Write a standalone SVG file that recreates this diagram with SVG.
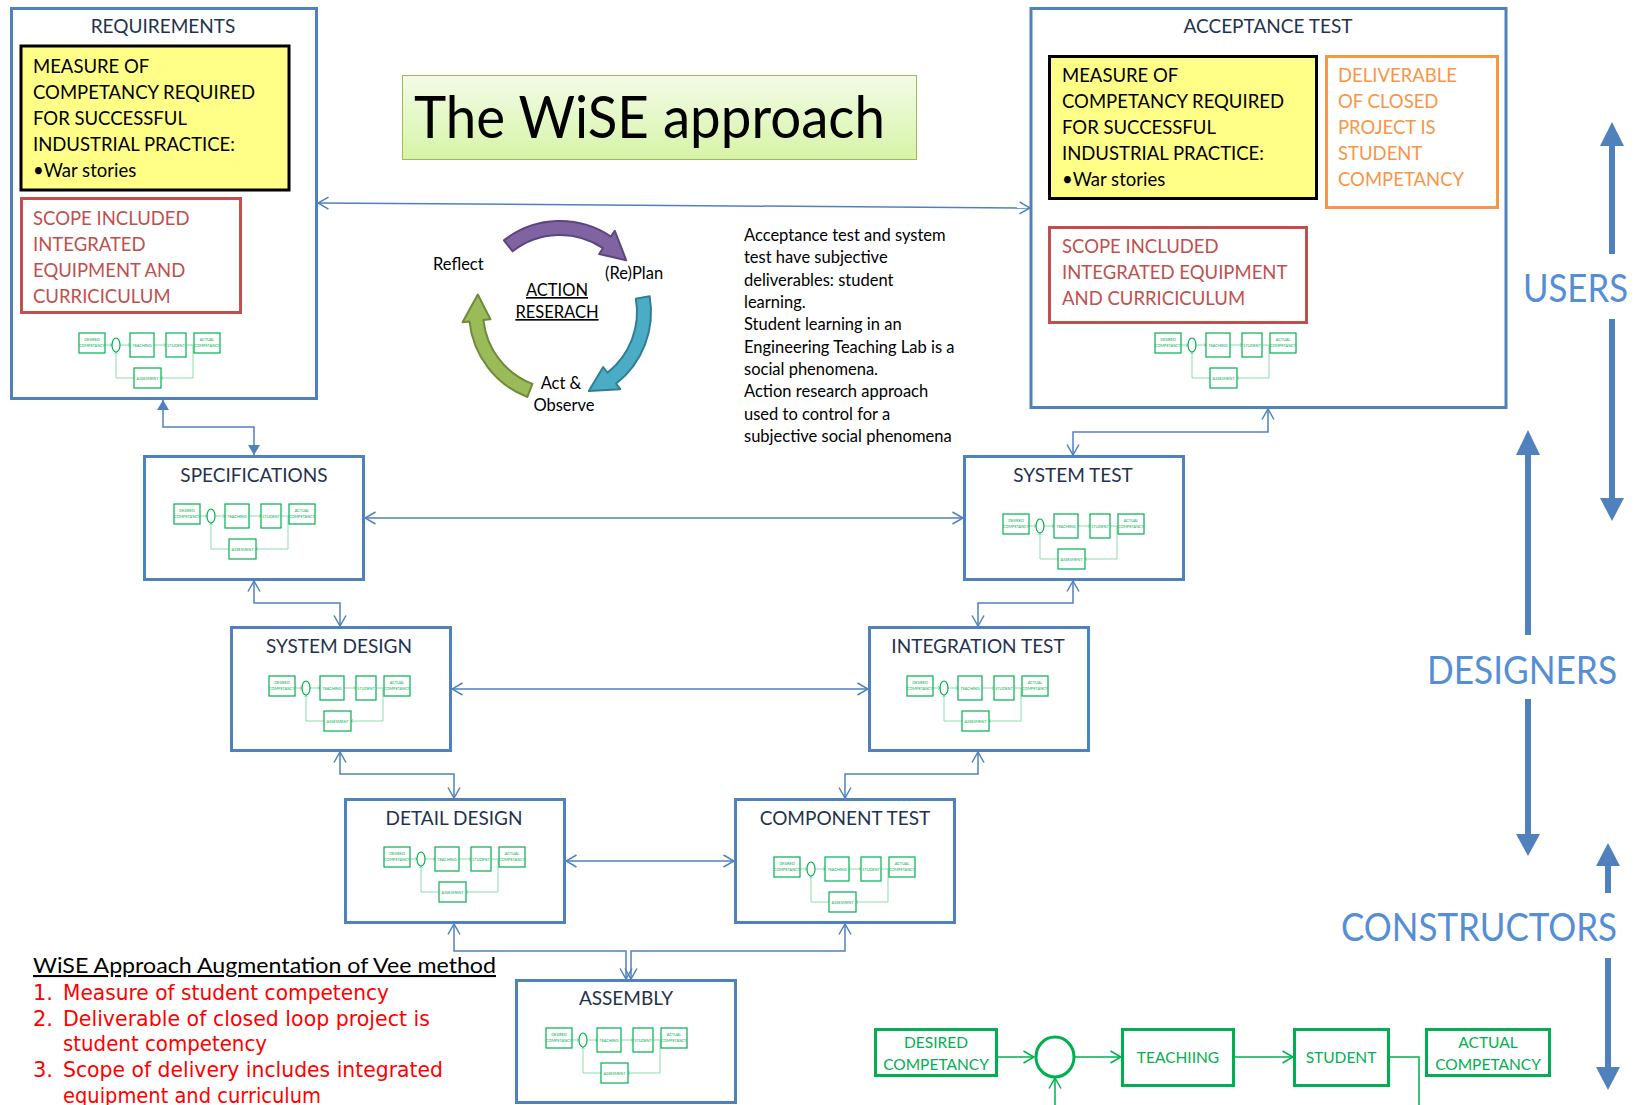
<svg xmlns="http://www.w3.org/2000/svg" xmlns:xlink="http://www.w3.org/1999/xlink" width="1641" height="1105" viewBox="0 0 1641 1105">
<defs>
<style>
 text{font-family:Lato,'Liberation Sans',sans-serif}
 .frame{fill:#fff;stroke:#4f81bd;stroke-width:3}
 .ttl{font-size:19px;fill:#1f3350;text-anchor:middle}
 .blk{font-size:18.5px;fill:#000}
 .yel{fill:#ffff88;stroke:#000;stroke-width:3}
 .redbox{fill:#fff;stroke:#c0504d;stroke-width:3}
 .redtxt{font-size:18.5px;fill:#c0504d}
 .orbox{fill:#fff;stroke:#f79646;stroke-width:3}
 .ortxt{font-size:18.5px;fill:#f79646}
 .conn{fill:none;stroke:#4f81bd;stroke-width:1.5}
 .vee{marker-start:url(#v);marker-end:url(#v)}
 .solid{marker-start:url(#tri);marker-end:url(#tri)}
 .body{font-size:16.5px;fill:#000}
 .mb{fill:#fff;stroke:#00b050;stroke-width:1.2}
 .ml{fill:none;stroke:#6fd497;stroke-width:0.8}
 .mt{font-size:3.8px;fill:#00b050;text-anchor:middle}
 .gb{fill:#fff;stroke:#00b050;stroke-width:3}
 .gl{fill:none;stroke:#00b050;stroke-width:1.5}
 .gt{font-size:15.5px;fill:#00b050;text-anchor:middle}
 .shaft{fill:none;stroke:#4f81bd;stroke-width:6}
 .head{fill:#4f81bd}
 .role{font-size:38px;fill:#558ed5}
 .red{font-size:21px;fill:#ff0000;font-family:'DejaVu Sans',sans-serif}
 .cyc{font-size:16.5px;fill:#000}
</style>
<marker id="v" viewBox="0 0 12 14" refX="11.5" refY="7" markerWidth="12" markerHeight="14" markerUnits="userSpaceOnUse" orient="auto-start-reverse">
 <path d="M1,1 L11.5,7 L1,13" fill="none" stroke="#4f81bd" stroke-width="1.5"/>
</marker>
<marker id="tri" viewBox="0 0 10 12" refX="10" refY="6" markerWidth="10" markerHeight="12" markerUnits="userSpaceOnUse" orient="auto-start-reverse">
 <path d="M0,0 L10,6 L0,12 Z" fill="#4f81bd"/>
</marker>
<marker id="gv" viewBox="0 0 12 14" refX="11.5" refY="7" markerWidth="12" markerHeight="14" markerUnits="userSpaceOnUse" orient="auto">
 <path d="M1,1 L11.5,7 L1,13" fill="none" stroke="#00b050" stroke-width="1.5"/>
</marker>
<linearGradient id="titleFill" x1="0" y1="0" x2="0" y2="1">
 <stop offset="0" stop-color="#f3fbe8"/>
 <stop offset="1" stop-color="#d6f4a6"/>
</linearGradient>
<!-- small feedback-loop sketch reused inside every stage box -->
<g id="loop">
 <path class="ml" d="M26,12H33M41,12H51M75,12H87M107,12H114V45H82M55,45H37V19M31,10.5L33,12L31,13.5M49,10.5L51,12L49,13.5M85,10.5L87,12L85,13.5M84,43.5L82,45L84,46.5M35.5,21L37,19L38.5,21"/>
 <rect class="mb" x="0" y="0" width="26" height="20"/>
 <ellipse class="mb" cx="37" cy="12" rx="4" ry="7"/>
 <rect class="mb" x="51" y="0" width="24" height="24"/>
 <rect class="mb" x="87" y="0" width="20" height="24"/>
 <rect class="mb" x="115" y="0" width="26" height="20"/>
 <rect class="mb" x="55" y="35" width="27" height="20"/>
 <text class="mt" x="13" y="8">DESIRED</text>
 <text class="mt" x="13" y="14">COMPETANCY</text>
 <text class="mt" x="63" y="13.5">TEACHING</text>
 <text class="mt" x="97" y="13.5">STUDENT</text>
 <text class="mt" x="128" y="8">ACTUAL</text>
 <text class="mt" x="128" y="14">COMPETANCY</text>
 <text class="mt" x="68.5" y="46.5">ASSESMENT</text>
</g>
</defs>

<rect width="1641" height="1105" fill="#fff"/>

<!-- stage: requirements -->
<g id="requirements">
 <rect class="frame" x="11.5" y="8.5" width="305" height="390"/>
 <text class="ttl" x="163" y="33">REQUIREMENTS</text>
 <rect class="yel" x="21" y="46" width="268" height="144"/>
 <text class="blk" x="33" y="73">MEASURE OF</text>
 <text class="blk" x="33" y="99">COMPETANCY REQUIRED</text>
 <text class="blk" x="33" y="125">FOR SUCCESSFUL</text>
 <text class="blk" x="33" y="151">INDUSTRIAL PRACTICE:</text>
 <text class="blk" x="33" y="177">•War stories</text>
 <rect class="redbox" x="21.5" y="198.5" width="219" height="114"/>
 <text class="redtxt" x="33" y="225">SCOPE INCLUDED</text>
 <text class="redtxt" x="33" y="251">INTEGRATED</text>
 <text class="redtxt" x="33" y="277">EQUIPMENT AND</text>
 <text class="redtxt" x="33" y="303">CURRICICULUM</text>
 <use xlink:href="#loop" x="79" y="333"/>
</g>

<!-- stage: acceptance test -->
<g id="acceptance-test">
 <rect class="frame" x="1031" y="8.5" width="475" height="399"/>
 <text class="ttl" x="1268" y="33">ACCEPTANCE TEST</text>
 <rect class="yel" x="1049.5" y="56.5" width="267" height="142"/>
 <text class="blk" x="1062" y="82">MEASURE OF</text>
 <text class="blk" x="1062" y="108">COMPETANCY REQUIRED</text>
 <text class="blk" x="1062" y="134">FOR SUCCESSFUL</text>
 <text class="blk" x="1062" y="160">INDUSTRIAL PRACTICE:</text>
 <text class="blk" x="1062" y="186">•War stories</text>
 <rect class="orbox" x="1326.5" y="56.5" width="171" height="151"/>
 <text class="ortxt" x="1338" y="82">DELIVERABLE</text>
 <text class="ortxt" x="1338" y="108">OF CLOSED</text>
 <text class="ortxt" x="1338" y="134">PROJECT IS</text>
 <text class="ortxt" x="1338" y="160">STUDENT</text>
 <text class="ortxt" x="1338" y="186">COMPETANCY</text>
 <rect class="redbox" x="1049.5" y="227.5" width="257" height="95"/>
 <text class="redtxt" x="1062" y="253">SCOPE INCLUDED</text>
 <text class="redtxt" x="1062" y="279">INTEGRATED EQUIPMENT</text>
 <text class="redtxt" x="1062" y="305">AND CURRICICULUM</text>
 <use xlink:href="#loop" x="1155" y="333"/>
</g>

<!-- stage: specifications -->
<g id="specifications">
 <rect class="frame" x="144.5" y="456.5" width="219" height="123"/>
 <text class="ttl" x="254" y="482">SPECIFICATIONS</text>
 <use xlink:href="#loop" x="174" y="504"/>
</g>

<!-- stage: system test -->
<g id="system-test">
 <rect class="frame" x="964.5" y="456.5" width="219" height="123"/>
 <text class="ttl" x="1073" y="482">SYSTEM TEST</text>
 <use xlink:href="#loop" x="1003" y="514"/>
</g>

<!-- stage: system design -->
<g id="system-design">
 <rect class="frame" x="231.5" y="627.5" width="219" height="123"/>
 <text class="ttl" x="339" y="653">SYSTEM DESIGN</text>
 <use xlink:href="#loop" x="269" y="676"/>
</g>

<!-- stage: integration test -->
<g id="integration-test">
 <rect class="frame" x="869.5" y="627.5" width="219" height="123"/>
 <text class="ttl" x="978" y="653">INTEGRATION TEST</text>
 <use xlink:href="#loop" x="907" y="676"/>
</g>

<!-- stage: detail design -->
<g id="detail-design">
 <rect class="frame" x="345.5" y="799.5" width="219" height="123"/>
 <text class="ttl" x="454" y="825">DETAIL DESIGN</text>
 <use xlink:href="#loop" x="384" y="847"/>
</g>

<!-- stage: component test -->
<g id="component-test">
 <rect class="frame" x="735.5" y="799.5" width="219" height="123"/>
 <text class="ttl" x="845" y="825">COMPONENT TEST</text>
 <use xlink:href="#loop" x="774" y="857"/>
</g>

<!-- stage: assembly -->
<g id="assembly">
 <rect class="frame" x="516.5" y="980.5" width="219" height="122"/>
 <text class="ttl" x="626" y="1005">ASSEMBLY</text>
 <use xlink:href="#loop" x="546" y="1028"/>
</g>

<!-- title -->
<g id="title">
 <rect x="402.5" y="75.5" width="514" height="84" fill="url(#titleFill)" stroke="#9bbb59" stroke-width="1"/>
 <text x="414" y="138" font-size="58" fill="#000" textLength="471" lengthAdjust="spacingAndGlyphs">The WiSE approach</text>
</g>

<!-- action research cycle -->
<g id="action-research">
 <path d="M503.97,240.29 A91,91 0 0 1 610.89,236.56 L614.80,230.76 L626.19,260.28 L599.14,253.97 L603.06,248.17 A77,77 0 0 0 512.59,251.32 Z" fill="#8064a2" stroke="#5c4580" stroke-width="2" stroke-linejoin="round"/>
 <path d="M649.62,296.20 A91,91 0 0 1 616.03,383.71 L620.34,389.22 L588.73,390.93 L603.10,367.16 L607.41,372.68 A77,77 0 0 0 635.83,298.63 Z" fill="#4bacc6" stroke="#2f7f94" stroke-width="2" stroke-linejoin="round"/>
 <path d="M527.39,396.96 A91,91 0 0 1 469.50,321.51 L462.54,322.24 L477.84,294.54 L490.38,319.32 L483.42,320.05 A77,77 0 0 0 532.40,383.88 Z" fill="#9bbb59" stroke="#6f8a3a" stroke-width="2" stroke-linejoin="round"/>
 <text class="cyc" x="433" y="270">Reflect</text>
 <text class="cyc" x="605" y="279">(Re)Plan</text>
 <text class="cyc" x="557" y="296" text-anchor="middle" text-decoration="underline">ACTION</text>
 <text class="cyc" x="557" y="318" text-anchor="middle" text-decoration="underline">RESERACH</text>
 <text class="cyc" x="561" y="389" text-anchor="middle">Act &amp;</text>
 <text class="cyc" x="564" y="411" text-anchor="middle">Observe</text>
</g>

<!-- explanatory note -->
<g id="note">
 <text class="body" x="744" y="241">Acceptance test and system</text>
 <text class="body" x="744" y="263">test have subjective</text>
 <text class="body" x="744" y="286">deliverables: student</text>
 <text class="body" x="744" y="308">learning.</text>
 <text class="body" x="744" y="330">Student learning in an</text>
 <text class="body" x="744" y="353">Engineering Teaching Lab is a</text>
 <text class="body" x="744" y="375">social phenomena.</text>
 <text class="body" x="744" y="397">Action research approach</text>
 <text class="body" x="744" y="420">used to control for a</text>
 <text class="body" x="744" y="442">subjective social phenomena</text>
</g>

<!-- augmentation list -->
<g id="augmentation">
 <text x="33" y="973" font-size="21" fill="#000" font-family="'DejaVu Sans',sans-serif" text-decoration="underline" textLength="463" lengthAdjust="spacingAndGlyphs">WiSE Approach Augmentation of Vee method</text>
 <text class="red" x="33" y="1000">1.</text>
 <text class="red" x="63" y="1000" textLength="326" lengthAdjust="spacingAndGlyphs">Measure of student competency</text>
 <text class="red" x="33" y="1026">2.</text>
 <text class="red" x="63" y="1026" textLength="367" lengthAdjust="spacingAndGlyphs">Deliverable of closed loop project is</text>
 <text class="red" x="63" y="1051" textLength="204" lengthAdjust="spacingAndGlyphs">student competency</text>
 <text class="red" x="33" y="1077">3.</text>
 <text class="red" x="63" y="1077" textLength="380" lengthAdjust="spacingAndGlyphs">Scope of delivery includes integrated</text>
 <text class="red" x="63" y="1103" textLength="258" lengthAdjust="spacingAndGlyphs">equipment and curriculum</text>
</g>

<!-- large feedback loop -->
<g id="competency-loop">
 <path class="gl" d="M989,1057H1034" marker-end="url(#gv)"/>
 <path class="gl" d="M1075,1057H1121" marker-end="url(#gv)"/>
 <path class="gl" d="M1234,1057H1293" marker-end="url(#gv)"/>
 <path class="gl" d="M1389,1057H1419V1105"/>
 <path class="gl" d="M1055,1105V1078" marker-end="url(#gv)"/>
 <rect class="gb" x="875.5" y="1029.5" width="121" height="46"/>
 <text class="gt" x="936" y="1048">DESIRED</text>
 <text class="gt" x="936" y="1070">COMPETANCY</text>
 <ellipse cx="1055" cy="1057" rx="19" ry="20" fill="#fff" stroke="#00b050" stroke-width="3"/>
 <rect class="gb" x="1122.5" y="1029.5" width="111" height="56"/>
 <text class="gt" x="1178" y="1063">TEACHIING</text>
 <rect class="gb" x="1294.5" y="1029.5" width="94" height="56"/>
 <text class="gt" x="1341" y="1063">STUDENT</text>
 <rect class="gb" x="1426.5" y="1029.5" width="123" height="46"/>
 <text class="gt" x="1488" y="1048">ACTUAL</text>
 <text class="gt" x="1488" y="1070">COMPETANCY</text>
</g>

<!-- stakeholder bands -->
<g id="users">
 <polygon class="head" points="1612,122 1600,146 1624,146"/>
 <path class="shaft" d="M1612,145V254M1612,319V499"/>
 <polygon class="head" points="1600,498 1624,498 1612,521"/>
 <text class="role" x="1523" y="302" textLength="105" lengthAdjust="spacingAndGlyphs">USERS</text>
</g>
<g id="designers">
 <polygon class="head" points="1528,430 1516,455 1540,455"/>
 <path class="shaft" d="M1528,454V635M1528,699V835"/>
 <polygon class="head" points="1516,834 1540,834 1528,856"/>
 <text class="role" x="1427" y="684" textLength="190" lengthAdjust="spacingAndGlyphs">DESIGNERS</text>
</g>
<g id="constructors">
 <polygon class="head" points="1608,843 1596,866 1620,866"/>
 <path class="shaft" d="M1608,865V893M1608,958V1068"/>
 <polygon class="head" points="1596,1067 1620,1067 1608,1090"/>
 <text class="role" x="1341" y="941" textLength="276" lengthAdjust="spacingAndGlyphs">CONSTRUCTORS</text>
</g>

<!-- connectors between stages -->
<g id="connectors">
 <path class="conn vee" d="M318,203L1030,208"/>
 <path class="conn solid" d="M163,400V427H254V455"/>
 <path class="conn vee" d="M254,581V603H340V626"/>
 <path class="conn vee" d="M365,518H963"/>
 <path class="conn vee" d="M1268,409V432H1073V455"/>
 <path class="conn vee" d="M1073,581V603H978V626"/>
 <path class="conn vee" d="M452,689H868"/>
 <path class="conn vee" d="M340,752V774H454V798"/>
 <path class="conn vee" d="M978,752V774H845V798"/>
 <path class="conn vee" d="M566,861H734"/>
 <path class="conn vee" d="M454,924V951H626V979"/>
 <path class="conn vee" d="M845,924V951H631V979"/>
</g>
</svg>
